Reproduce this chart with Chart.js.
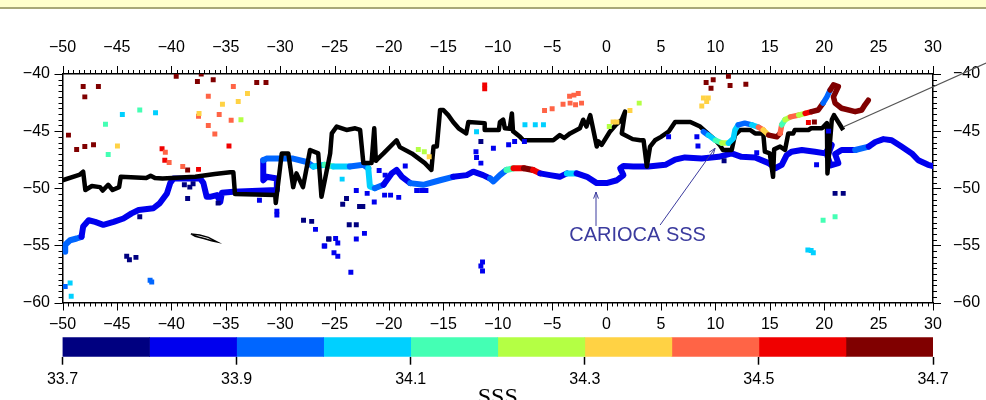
<!DOCTYPE html>
<html>
<head>
<meta charset="utf-8">
<script src="https://cdn.jsdelivr.net/npm/chart.js@4.4.1/dist/chart.umd.min.js"></script>
<style>
  html, body { margin: 0; padding: 0; background: #fff; }
  body { width: 986px; height: 400px; position: relative; overflow: hidden; }
  #banner { position: absolute; left: 0; top: 0; width: 986px; height: 7px; background: #ffffcc; border-bottom: 2px solid #a8a878; z-index: 2; }
  #map { position: absolute; left: 0; top: 0; }
  #bar { position: absolute; left: 0; top: 330px; }
</style>
</head>
<body>
<div id="banner"></div>
<canvas id="map" width="986" height="335"></canvas>
<canvas id="bar" width="986" height="82"></canvas>
<script>
// map extent
const lonMin = -50, lonMax = 30, latMin = -60, latMax = -40;

// ship track (black)
const shipLon = [-50.0, -48.4, -48.1, -47.9, -47.3, -46.55, -46.3, -45.8, -45.4, -44.8, -44.65, -42.3, -41.9, -41.5, -40.8,
  -37.8, -36.0, -34.6, -34.3, -34.15, -30.45, -30.4, -29.85, -29.25, -28.8, -28.5, -27.9, -27.25, -26.5, -26.2,
  -25.4, -25.25, -24.8, -23.9, -23.1, -22.65, -22.35, -21.6, -21.35, -21.2, -21.0, -20.5, -19.3, -19.0, -17.9,
  -16.7, -16.1, -15.9, -15.6, -15.3, -15.0, -14.55, -14.1, -13.6, -12.9, -12.7, -11.2, -11.2, -9.9, -9.8,
  -9.5, -9.35, -8.9, -8.7, -8.6, -7.95, -7.65, -4.9, -4.3, -3.9, -3.35, -2.45, -2.15, -1.85, -1.5,
  -0.9, -0.75, -0.45, 0.3, 0.8, 1.4, 1.7, 1.4, 2.4, 3.1, 3.4, 3.7, 4.0, 4.45, 5.0,
  5.7, 6.3, 7.7, 8.6, 10.0, 10.4, 10.7, 11.5, 11.8, 12.3, 13.2, 13.65, 14.4, 14.55, 15.0,
  15.3, 15.4, 15.95, 16.4, 16.7, 17.15, 17.3, 18.55, 18.8, 19.8, 20.25, 20.3, 20.7, 20.9, 21.75];
const shipLat = [-49.3, -48.8, -48.55, -50.15, -49.8, -49.9, -50.2, -49.7, -50.15, -49.9, -49.0, -49.1, -48.9, -49.1, -49.15,
  -49.0, -48.75, -48.6, -48.6, -50.5, -50.6, -51.3, -46.95, -46.95, -49.9, -48.7, -49.9, -46.65, -46.95, -50.75,
  -46.95, -45.2, -44.6, -44.9, -44.75, -44.9, -47.8, -47.8, -44.75, -47.6, -47.4, -46.95, -45.8, -46.4, -46.95,
  -47.8, -48.4, -46.35, -46.35, -43.15, -43.15, -43.6, -44.2, -44.75, -45.2, -44.2, -44.3, -44.9, -44.9, -44.2,
  -44.0, -44.75, -44.8, -43.45, -45.0, -45.5, -45.8, -45.8, -45.35, -45.6, -45.2, -44.75, -44.0, -44.6, -43.6,
  -46.35, -45.9, -46.2, -45.05, -44.5, -44.0, -43.3, -45.2, -45.7, -45.8, -45.8, -48.1, -46.35, -45.8, -45.5,
  -45.05, -44.2, -44.2, -44.6, -45.8, -46.2, -46.65, -46.65, -45.35, -44.9, -44.9, -45.2, -45.2, -46.8, -46.95,
  -49.0, -46.6, -46.35, -46.65, -45.2, -45.2, -44.9, -44.9, -44.75, -44.75, -44.3, -48.7, -44.0, -43.6, -44.9];

// South Georgia outline
const islandLon = [-38.2, -37.4, -36.6, -35.8, -36.3, -37.0, -37.8, -38.2];
const islandLat = [-54.0, -54.1, -54.3, -54.7, -54.6, -54.4, -54.2, -54.0];

// CARIOCA drifter track and its SSS
const cariocaLon = [-49.75, -49.75, -49.3, -48.7, -48.25, -48.1, -47.6, -47.0, -46.25, -45.3, -44.4, -43.65, -43.0, -41.65, -41.05,
  -40.4, -40.1, -39.8, -37.35, -37.05, -36.75, -36.45, -35.8, -35.5, -35.35, -34.3, -30.3, -30.3, -31.25, -31.55,
  -31.55, -31.25, -28.8, -27.55, -26.95, -25.9, -25.1, -23.6, -22.35, -21.9, -21.75, -21.3, -20.5, -20.2, -19.75,
  -19.3, -18.8, -18.05, -16.85, -15.3, -14.1, -12.85, -12.25, -11.35, -10.7, -10.4, -9.8, -9.2, -8.55, -7.6,
  -6.75, -6.1, -5.2, -4.3, -3.65, -2.75, -1.8, -0.9, 0.0, 0.95, 1.55, 1.25, 1.55, 2.45, 3.85,
  5.4, 6.3, 7.2, 8.75, 10.3, 11.5, 12.4, 13.65, 14.9, 15.5, 16.1, 16.55, 17.0, 17.95, 19.15,
  20.1, 20.4, 20.7, 20.3, 20.6, 21.3, 21.0, 21.6, 22.85, 24.1, 24.7, 25.45, 26.2, 27.1, 28.05,
  28.65, 29.55, 30.0];
const cariocaLat = [-55.55, -54.95, -54.55, -54.4, -54.25, -53.35, -52.8, -52.95, -53.2, -52.95, -52.65, -52.2, -51.9, -51.75, -51.3,
  -50.45, -49.55, -49.15, -49.15, -49.55, -50.75, -50.75, -50.6, -51.2, -50.4, -50.3, -50.15, -49.15, -49.0, -49.3,
  -47.55, -47.4, -47.4, -47.7, -48.1, -47.95, -48.1, -48.1, -47.95, -48.25, -49.85, -50.0, -49.7, -49.3, -48.7,
  -48.4, -49.0, -49.55, -49.7, -49.3, -49.0, -48.85, -48.55, -48.85, -49.15, -49.4, -48.85, -48.4, -48.25, -48.25,
  -48.4, -48.7, -48.85, -49.0, -48.7, -48.7, -49.0, -49.55, -49.55, -49.3, -48.85, -48.25, -48.05, -48.1, -48.1,
  -47.95, -47.5, -47.3, -47.4, -47.25, -46.95, -47.25, -47.3, -47.8, -48.25, -47.95, -47.1, -46.8, -46.65, -46.8,
  -46.95, -46.5, -46.2, -47.2, -48.0, -47.8, -47.0, -46.65, -46.65, -46.35, -45.95, -45.7, -45.8, -46.35, -46.95,
  -47.55, -47.95, -48.05];
const cariocaSss = [33.95, 33.95, 33.95, 33.95, 33.85, 33.85, 33.85, 33.85, 33.85, 33.85, 33.85, 33.85, 33.85, 33.85, 33.85,
  33.85, 33.85, 33.85, 33.85, 33.85, 33.85, 33.85, 33.85, 33.85, 33.85, 33.85, 33.85, 33.85, 33.85, 33.85,
  33.95, 33.95, 33.95, 33.95, 34.05, 34.15, 34.05, 33.95, 33.95, 34.05, 34.05, 33.95, 33.85, 33.85, 33.85,
  33.85, 33.85, 33.95, 33.95, 33.95, 33.85, 33.85, 33.85, 33.85, 33.95, 33.95, 33.95, 34.15, 34.55, 34.65,
  34.55, 33.85, 33.85, 33.85, 34.05, 33.85, 33.85, 33.85, 33.85, 33.85, 33.85, 33.85, 33.85, 33.85, 33.85,
  33.85, 33.85, 33.85, 33.85, 33.85, 33.85, 33.85, 33.85, 33.85, 33.85, 33.85, 33.85, 33.85, 33.85, 33.85,
  33.85, 33.85, 33.85, 33.85, 33.85, 33.85, 33.85, 33.85, 33.95, 33.85, 33.85, 33.85, 33.85, 33.85, 33.85,
  33.85, 33.85, 33.85];

// northern coloured track
const upperLon = [8.9, 9.35, 10.0, 10.6, 11.2, 11.65, 11.8, 12.1, 12.7, 13.35, 13.95, 14.4, 14.9, 15.65, 15.95, 16.1, 16.4,
  16.9, 17.65, 18.25, 18.85, 19.45, 19.9, 20.25, 20.55, 20.85, 21.3, 20.85, 21.0, 21.6, 22.85, 23.45, 23.75, 24.05];
const upperLat = [-45.05, -45.35, -45.8, -46.05, -46.05, -45.65, -44.9, -44.45, -44.3, -44.45, -44.65, -44.9, -45.35, -45.5, -45.2, -44.45, -44.0,
  -43.75, -43.6, -43.45, -43.3, -43.15, -42.55, -42.0, -41.4, -40.95, -41.1, -42.0, -42.55, -43.0, -43.3, -43.15, -42.7, -42.3];
const upperSss = [33.95, 34.05, 34.15, 34.25, 34.05, 34.05, 34.05, 33.95, 33.95, 34.05, 34.45, 34.35, 34.65, 34.65, 34.45, 34.15, 34.25,
  34.45, 34.25, 34.55, 34.65, 34.65, 33.95, 33.95, 34.65, 34.65, 34.65, 34.65, 34.65, 34.65, 34.65, 34.65, 34.65, 34.65];

// isolated samples
const sampleLon = [-48.1, -47.95, -46.7, -49.45, -48.7, -47.95, -47.15, -39.55, -37.6, -37.25, -36.15, -32.15, -31.3, -38.5,
  9.15, 9.8, 9.6, 11.2, 11.35, 12.8, 19.1,
  -40.85, -40.6, -37.5, -34.7, -11.2, -11.2, 18.55,
  -40.55, -40.2, -38.95, -37.5, -36.6, -35.6, -36.6, -36.0, -34.3, -34.5, -5.7, -5.0, -4.0, -3.35, -2.85, -2.3, -3.4, -3.0, -2.6,
  -44.95, -37.45, -35.3, -33.85, -33.0, -16.3, 2.15, 0.6, 0.95, 8.9, 9.35, 9.2, 8.75,
  -33.6, -17.3, -16.75, 3.0, 0.25,
  -42.9, -46.05, -45.8, 19.9, 21.0,
  -44.5, -41.45, -49.3, -49.2, -7.5, -6.55, -5.8, -11.95, -24.3, 18.5, 18.8, 19.0,
  -49.75, -41.95, -41.8,
  -31.9, -30.3, -30.3, -26.75, -25.95, -12.0, -11.95, -11.55, -10.4, -9.0, -8.45, -7.55, -18.5, -20.9, -20.35, -23.0, -22.0,
  -21.35, -20.4, -19.85, -19.1, -17.45, -17.0, -16.6, -22.25, -24.9, -24.7, -23.0, -25.9, -25.05, -24.7, -23.5, -11.4, -11.55,
  -11.4, 5.7, 8.3, 8.4, 13.8, 19.3, 20.4,
  -44.1, -43.85, -43.25, -42.9, -38.8, -38.5, -38.3, -38.0, -35.7, -27.85, -27.1, -25.5, -11.55, -23.9, -24.25, -22.7, -22.4,
  -23.65, -23.0, -25.55, 10.8, 21.0, 21.75];
const sampleLat = [-41.1, -42.0, -41.1, -45.35, -46.6, -46.35, -46.2, -40.2, -40.65, -40.0, -40.5, -40.75, -40.75, -48.4,
  -40.75, -40.5, -41.25, -40.2, -41.0, -40.9, -44.2,
  -46.55, -47.55, -48.35, -46.3, -40.95, -41.3, -44.25,
  -46.85, -47.75, -48.1, -43.7, -41.95, -43.55, -44.5, -45.25, -41.1, -44.05, -43.2, -43.05, -42.65, -42.55, -42.7, -42.55, -41.95, -41.85, -41.7,
  -46.3, -43.45, -42.65, -42.4, -41.7, -47.25, -43.2, -44.2, -44.2, -42.1, -42.1, -42.4, -42.8,
  -44.0, -46.6, -46.8, -42.55, -44.6,
  -43.15, -44.4, -47.05, -52.8, -52.5,
  -43.55, -43.4, -58.3, -59.45, -44.45, -44.45, -44.45, -45.05, -49.2, -55.4, -55.45, -55.65,
  -58.6, -58.05, -58.2,
  -51.05, -52.0, -52.35, -53.6, -55.05, -46.8, -47.3, -47.8, -46.5, -46.2, -45.9, -45.9, -48.05, -48.45, -48.85, -50.2, -50.45,
  -51.2, -50.6, -50.6, -50.8, -50.2, -50.2, -50.2, -53.95, -54.4, -54.8, -54.45, -55.05, -55.65, -55.95, -57.35, -56.45, -56.8,
  -57.25, -45.5, -45.5, -46.3, -46.9, -47.95, -45.0,
  -55.95, -56.25, -56.05, -52.5, -49.7, -50.9, -49.9, -49.6, -51.3, -52.8, -52.9, -54.45, -45.9, -50.9, -51.4, -51.6, -51.6,
  -53.2, -53.2, -54.45, -47.6, -50.45, -50.45];
const sampleSss = [34.65, 34.65, 34.65, 34.65, 34.65, 34.65, 34.65, 34.65, 34.65, 34.65, 34.65, 34.65, 34.65, 34.65,
  34.65, 34.65, 34.65, 34.65, 34.65, 34.65, 34.65,
  34.55, 34.55, 34.55, 34.55, 34.55, 34.55, 34.55,
  34.45, 34.45, 34.45, 34.45, 34.45, 34.45, 34.45, 34.45, 34.45, 34.45, 34.45, 34.45, 34.45, 34.45, 34.45, 34.45, 34.45, 34.45, 34.45,
  34.35, 34.35, 34.35, 34.35, 34.35, 34.35, 34.35, 34.35, 34.35, 34.35, 34.35, 34.35, 34.35,
  34.25, 34.25, 34.25, 34.25, 34.25,
  34.15, 34.15, 34.15, 34.15, 34.15,
  34.05, 34.05, 34.05, 34.05, 34.05, 34.05, 34.05, 34.05, 34.05, 34.05, 34.05, 34.05,
  33.95, 33.95, 33.95,
  33.85, 33.85, 33.85, 33.85, 33.85, 33.85, 33.85, 33.85, 33.85, 33.85, 33.85, 33.85, 33.85, 33.85, 33.85, 33.85, 33.85,
  33.85, 33.85, 33.85, 33.85, 33.85, 33.85, 33.85, 33.85, 33.85, 33.85, 33.85, 33.85, 33.85, 33.85, 33.85, 33.85, 33.85,
  33.85, 33.85, 33.85, 33.85, 33.85, 33.85, 33.85,
  33.75, 33.75, 33.75, 33.75, 33.75, 33.75, 33.75, 33.75, 33.75, 33.75, 33.75, 33.75, 33.75, 33.75, 33.75, 33.75, 33.75,
  33.75, 33.75, 33.75, 33.75, 33.75, 33.75];

// colour scale
const sssEdges = [33.7, 33.8, 33.9, 34.0, 34.1, 34.2, 34.3, 34.4, 34.5, 34.6, 34.7];
const sssColors = ['#000080', '#0000ee', '#0066ff', '#00d0ff', '#44ffb4', '#b4ff44', '#ffd244', '#ff6446', '#f00000', '#800000'];
const sssTickLabels = [33.7, 33.9, 34.1, 34.3, 34.5, 34.7];

// annotation
const labelText = 'CARIOCA SSS';
const labelLon = 2.85, labelLat = -54.1;
const arrowFrom = [[-0.97, -53.3], [4.92, -53.22]];
const arrowTo = [[-0.97, -50.33], [9.97, -46.5]];
const leaderFrom = [21.74, -44.64], leaderTo = [34.88, -39.04];

const font = { family: '"Liberation Sans", Arial, sans-serif', size: 16 };
const minus = v => (v < 0 ? '\u2212' + Math.abs(v) : String(v));

function sssColor(v) {
  for (let i = 0; i < sssColors.length; i++) {
    if (v < sssEdges[i + 1]) return sssColors[i];
  }
  return sssColors[sssColors.length - 1];
}
const toPoints = (lon, lat) => lon.map((x, i) => ({ x: x, y: lat[i] }));

// outward major / minor ticks around the frame
const frameTicks = {
  id: 'frameTicks',
  afterDraw(chart) {
    const { ctx, chartArea: a, scales } = chart;
    const isMajor = v => Math.abs(v / 5 - Math.round(v / 5)) < 1e-6;
    ctx.save();
    ctx.strokeStyle = '#000';
    ctx.lineWidth = 1;
    ctx.beginPath();
    for (let v = lonMin; v <= lonMax + 1e-6; v += 0.5) {
      const px = Math.round(scales.x.getPixelForValue(v)) + 0.5;
      const len = isMajor(v) ? 8 : 4;
      ctx.moveTo(px, a.top); ctx.lineTo(px, a.top - len);
      ctx.moveTo(px, a.bottom); ctx.lineTo(px, a.bottom + len);
    }
    for (let v = latMin; v <= latMax + 1e-6; v += 0.5) {
      const py = Math.round(scales.y.getPixelForValue(v)) + 0.5;
      const len = isMajor(v) ? 8 : 4;
      ctx.moveTo(a.left, py); ctx.lineTo(a.left - len, py);
      ctx.moveTo(a.right, py); ctx.lineTo(a.right + len, py);
    }
    ctx.stroke();
    ctx.restore();
  }
};

function arrowHead(ctx, x0, y0, x1, y1) {
  const ang = Math.atan2(y1 - y0, x1 - x0), len = 7;
  ctx.moveTo(x1, y1);
  ctx.lineTo(x1 - len * Math.cos(ang - 0.35), y1 - len * Math.sin(ang - 0.35));
  ctx.moveTo(x1, y1);
  ctx.lineTo(x1 - len * Math.cos(ang + 0.35), y1 - len * Math.sin(ang + 0.35));
}

const annotations = {
  id: 'annotations',
  afterDraw(chart) {
    const { ctx, scales: { x, y } } = chart;
    ctx.save();
    // leader line to the right
    ctx.strokeStyle = '#555';
    ctx.lineWidth = 1.2;
    ctx.beginPath();
    ctx.moveTo(x.getPixelForValue(leaderFrom[0]), y.getPixelForValue(leaderFrom[1]));
    ctx.lineTo(x.getPixelForValue(leaderTo[0]), y.getPixelForValue(leaderTo[1]));
    ctx.stroke();
    // CARIOCA label + arrows
    ctx.strokeStyle = '#3b3b9e';
    ctx.lineWidth = 1;
    ctx.beginPath();
    arrowFrom.forEach((f, i) => {
      const x0 = x.getPixelForValue(f[0]), y0 = y.getPixelForValue(f[1]);
      const x1 = x.getPixelForValue(arrowTo[i][0]), y1 = y.getPixelForValue(arrowTo[i][1]);
      ctx.moveTo(x0, y0); ctx.lineTo(x1, y1);
      arrowHead(ctx, x0, y0, x1, y1);
    });
    ctx.stroke();
    ctx.fillStyle = '#3b3b9e';
    ctx.font = '20px "Liberation Sans", Arial, sans-serif';
    ctx.textAlign = 'center';
    ctx.textBaseline = 'middle';
    ctx.fillText(labelText, x.getPixelForValue(labelLon), y.getPixelForValue(labelLat));
    ctx.restore();
  }
};

const lonAxis = (position, height, padding) => ({
  type: 'linear', position: position, min: lonMin, max: lonMax,
  ticks: { stepSize: 5, font: font, color: '#000', padding: padding, maxRotation: 0, autoSkip: false, callback: minus },
  grid: { drawOnChartArea: false, drawTicks: false },
  border: { display: true, color: '#000', width: 1.5 },
  afterFit: s => { s.height = height; }
});
const latAxis = (position, width, padding) => ({
  type: 'linear', position: position, min: latMin, max: latMax,
  ticks: { stepSize: 5, font: font, color: '#000', padding: padding, autoSkip: false, callback: minus },
  grid: { drawOnChartArea: false, drawTicks: false },
  border: { display: true, color: '#000', width: 1.5 },
  afterFit: s => { s.width = width; }
});

new Chart(document.getElementById('map'), {
  type: 'scatter',
  data: {
    datasets: [
      {
        type: 'scatter', data: toPoints(sampleLon, sampleLat), order: 0,
        pointStyle: 'rect', pointRadius: 3.5, pointBorderWidth: 0,
        pointBackgroundColor: ctx => sssColor(sampleSss[ctx.dataIndex])
      },
      {
        type: 'line', data: toPoints(upperLon, upperLat), order: 1,
        borderWidth: 5.5, pointRadius: 0, tension: 0, borderJoinStyle: 'round', borderCapStyle: 'round',
        borderColor: sssColors[9],
        segment: { borderColor: ctx => sssColor(upperSss[ctx.p0DataIndex]) }
      },
      {
        type: 'line', data: toPoints(shipLon, shipLat), order: 2,
        borderColor: '#000', borderWidth: 4.5, pointRadius: 0, tension: 0, borderJoinStyle: 'round'
      },
      {
        type: 'line', data: toPoints(islandLon, islandLat), order: 2,
        borderColor: '#000', borderWidth: 1.5, pointRadius: 0, tension: 0
      },
      {
        type: 'line', data: toPoints(cariocaLon, cariocaLat), order: 3,
        borderWidth: 6, pointRadius: 0, tension: 0, borderJoinStyle: 'round', borderCapStyle: 'round',
        borderColor: sssColors[1],
        segment: { borderColor: ctx => sssColor(cariocaSss[ctx.p0DataIndex]) }
      }
    ]
  },
  options: {
    responsive: false,
    animation: false,
    layout: { padding: 0 },
    plugins: { legend: { display: false }, tooltip: { enabled: false } },
    scales: {
      x: lonAxis('bottom', 32.5, 12),
      x2: lonAxis('top', 74, 17),
      y: latAxis('left', 62.5, 12.5),
      y2: latAxis('right', 53, 20)
    }
  },
  plugins: [frameTicks, annotations]
});

// colour bar
new Chart(document.getElementById('bar'), {
  type: 'bar',
  data: {
    labels: ['SSS'],
    datasets: sssColors.map((c, i) => ({
      data: [[sssEdges[i], sssEdges[i + 1]]],
      backgroundColor: c, borderWidth: 0,
      barPercentage: 1, categoryPercentage: 1, grouped: false
    }))
  },
  options: {
    indexAxis: 'y',
    responsive: false,
    animation: false,
    layout: { padding: { top: 7.3, left: 62.5, right: 53, bottom: 0 } },
    plugins: { legend: { display: false }, tooltip: { enabled: false } },
    scales: {
      x: {
        type: 'linear', position: 'bottom', min: sssEdges[0], max: sssEdges[sssEdges.length - 1],
        afterBuildTicks: s => { s.ticks = sssTickLabels.map(v => ({ value: v })); },
        ticks: { font: font, color: '#000', padding: 5, maxRotation: 0, autoSkip: false, callback: v => v.toFixed(1) },
        grid: { drawOnChartArea: false, drawTicks: true, tickLength: 8, tickColor: '#000', tickWidth: 1.5 },
        border: { display: false },
        title: { display: true, text: 'SSS', color: '#000', font: { family: '"Liberation Serif", "Times New Roman", serif', size: 24 }, padding: 0 },
        afterFit: s => { s.height = 55.3; }
      },
      y: { display: false }
    }
  }
});
</script>
</body>
</html>
